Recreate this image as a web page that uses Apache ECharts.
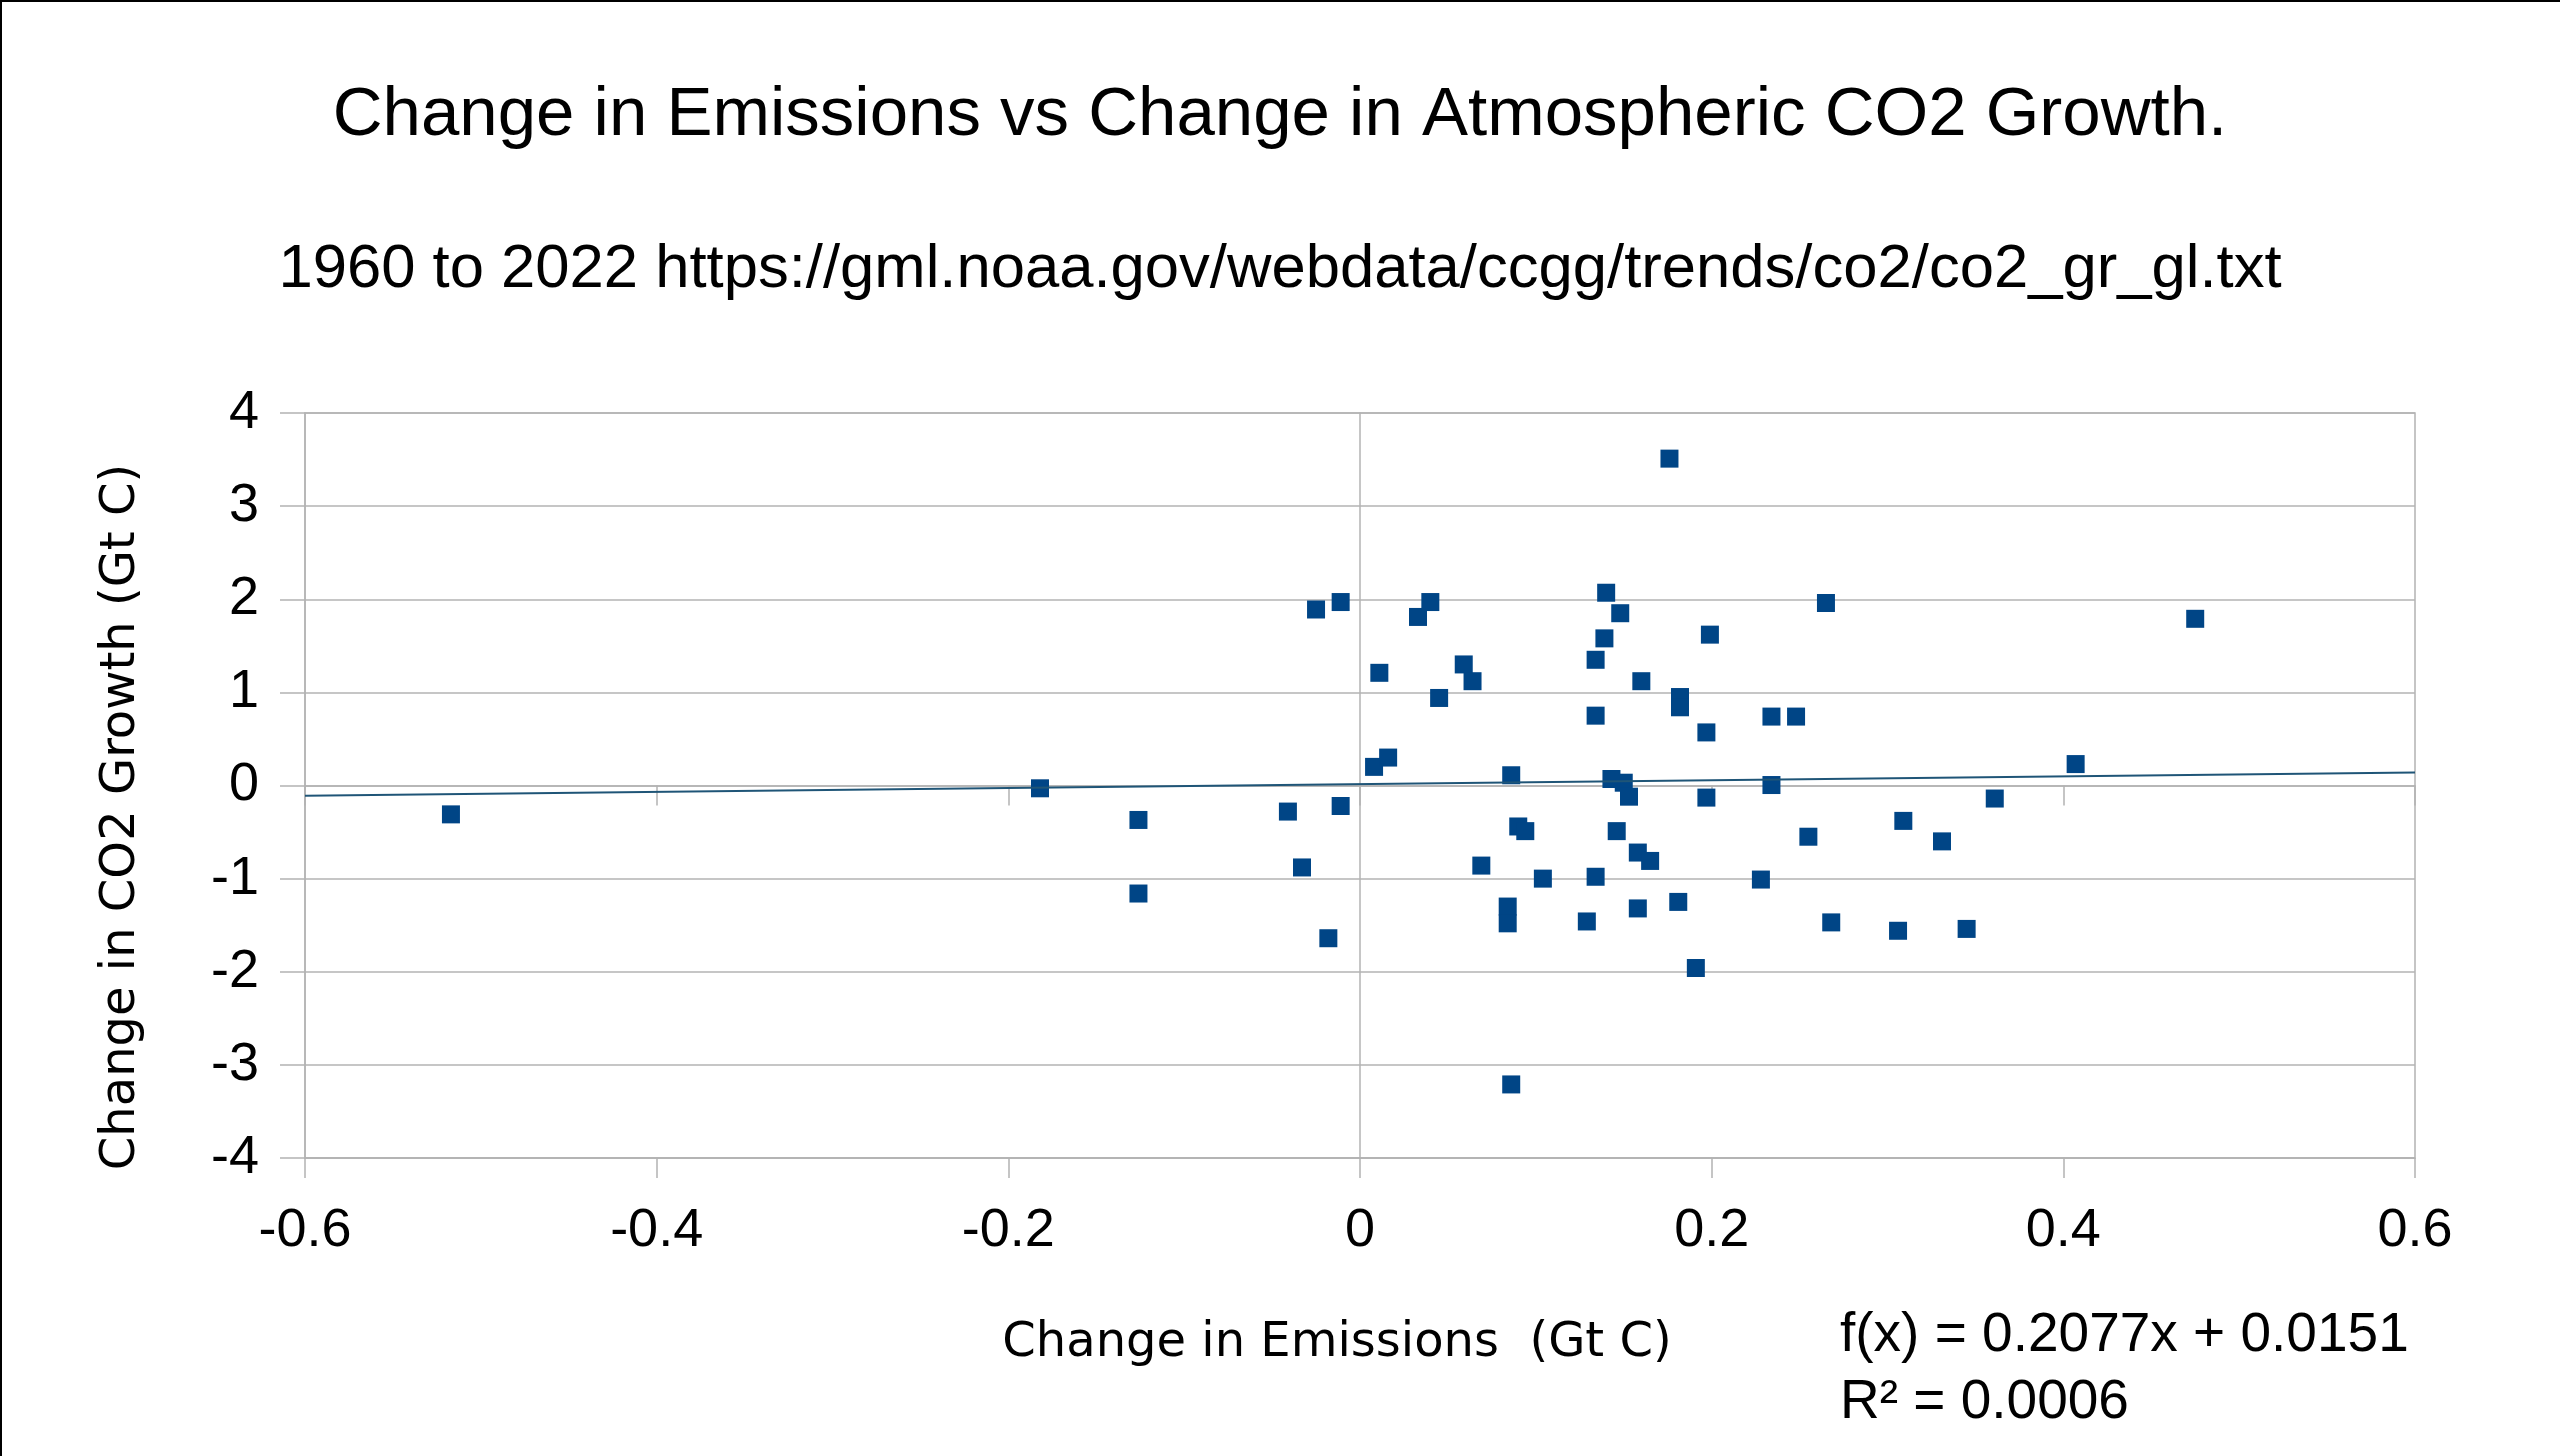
<!DOCTYPE html>
<html>
<head>
<meta charset="utf-8">
<script src="https://cdn.jsdelivr.net/npm/echarts@6/dist/echarts.min.js"></script>
<style>
  html, body { margin: 0; padding: 0; background: #ffffff; }
  #chart { width: 2560px; height: 1456px; }
</style>
</head>
<body>
<div id="chart"></div>
<script>
// Change in emissions (Gt C)
const emissionsChange = [
  -0.517, -0.182, -0.126, -0.126, -0.041, -0.033, -0.025, -0.018, -0.011, -0.011,
   0.008,  0.011,  0.016,  0.033,  0.040,  0.045,  0.059,  0.064,  0.069,  0.086,
   0.090,  0.094,  0.084,  0.084,  0.086,  0.104,  0.129,  0.134,  0.134,  0.134,
   0.139,  0.140,  0.143,  0.146,  0.148,  0.150,  0.153,  0.158,  0.158,  0.160,
   0.165,  0.176,  0.181,  0.182,  0.182,  0.191,  0.197,  0.197,  0.199,  0.228,
   0.234,  0.234,  0.248,  0.255,  0.265,  0.268,  0.306,  0.309,  0.331,  0.345,
   0.361,  0.407,  0.475
];
// Change in CO2 growth (Gt C)
const co2GrowthChange = [
  -0.31, -0.03, -0.37, -1.16, -0.28, -0.88,  1.89, -1.64,  1.97, -0.22,
   0.20,  1.21,  0.30,  1.81,  1.97,  0.94,  1.30,  1.12, -0.86,  0.11,
  -0.44, -0.49, -1.30, -1.48, -3.21, -1.00, -1.46,  1.35,  0.75, -0.98,
   1.58,  2.07,  0.07, -0.49,  1.85,  0.03, -0.12, -0.72, -1.32,  1.12,
  -0.81,  3.51, -1.25,  0.95,  0.84, -1.96,  0.57, -0.13,  1.62, -1.01,
   0.74,  0.005, 0.74, -0.55,  1.96, -1.47, -1.56, -0.38, -0.60, -1.54,
  -0.14,  0.23,  1.79
];
// Linear trend shown on the chart
const trendSlope = 0.2077;
const trendIntercept = 0.0151;
const trendXRange = [-0.6, 0.6];

const xTicks = [-0.6, -0.4, -0.2, 0, 0.2, 0.4, 0.6];
const yTicks = [-4, -3, -2, -1, 0, 1, 2, 3, 4];

const points = emissionsChange.map((x, i) => [x, co2GrowthChange[i]]);
const trendData = trendXRange.map(x => [x, trendSlope * x + trendIntercept]);

const gridColor = '#b3b3b3';
const sans = '"Liberation Sans", Arial, sans-serif';
const deja = '"DejaVu Sans", sans-serif';

const chart = echarts.init(document.getElementById('chart'), null, { renderer: 'canvas' });
chart.setOption({
  backgroundColor: '#ffffff',
  animation: false,
  title: [
    {
      text: 'Change in Emissions vs Change in Atmospheric CO2 Growth.',
      left: 'center', top: 76,
      textStyle: { fontFamily: sans, fontSize: 69, fontWeight: 'normal', color: '#000', lineHeight: 70 }
    },
    {
      text: '1960 to 2022 https://gml.noaa.gov/webdata/ccgg/trends/co2/co2_gr_gl.txt',
      left: 'center', top: 234,
      textStyle: { fontFamily: sans, fontSize: 61.6, fontWeight: 'normal', color: '#000', lineHeight: 62 }
    }
  ],
  grid: {
    left: 305, right: 145, top: 413, bottom: 298,
    show: true, borderColor: gridColor, borderWidth: 1.5, backgroundColor: 'transparent'
  },
  xAxis: [
    {
      type: 'value', min: -0.6, max: 0.6, interval: 0.2, position: 'bottom',
      axisLine: { show: true, onZero: false, lineStyle: { color: gridColor, width: 1.5 } },
      axisTick: { show: true, length: 20, lineStyle: { color: gridColor, width: 1.5 } },
      axisLabel: {
        fontFamily: sans, fontSize: 54, color: '#000', margin: 46,
        formatter: v => {
          const t = xTicks.find(k => Math.abs(k - v) < 1e-9);
          return t === undefined ? '' : String(Math.round(t * 10) / 10);
        }
      },
      splitLine: { show: false }
    },
    {
      type: 'value', min: -0.6, max: 0.6, interval: 0.2, position: 'top',
      axisLine: { show: true, onZero: true, onZeroAxisIndex: 0, lineStyle: { color: gridColor, width: 1.5 } },
      axisTick: { show: true, inside: true, length: 20, lineStyle: { color: gridColor, width: 1.5 } },
      axisLabel: { show: false },
      splitLine: { show: false }
    }
  ],
  yAxis: [
    {
      type: 'value', min: -4, max: 4, interval: 1, position: 'left',
      axisLine: { show: true, onZero: false, lineStyle: { color: gridColor, width: 1.5 } },
      axisTick: { show: true, length: 25, lineStyle: { color: gridColor, width: 1.5 } },
      axisLabel: { fontFamily: sans, fontSize: 54, color: '#000', margin: 46 },
      splitLine: { show: true, lineStyle: { color: gridColor, width: 1.5 } }
    },
    {
      type: 'value', min: -4, max: 4, interval: 1, position: 'right',
      axisLine: { show: true, onZero: true, onZeroAxisIndex: 0, lineStyle: { color: gridColor, width: 1.5 } },
      axisTick: { show: false },
      axisLabel: { show: false },
      splitLine: { show: false }
    }
  ],
  series: [
    {
      type: 'scatter', xAxisIndex: 0, yAxisIndex: 0,
      symbol: 'rect', symbolSize: 18,
      itemStyle: { color: '#004586', opacity: 1 },
      emphasis: { disabled: true },
      data: points, z: 3
    },
    {
      type: 'line', xAxisIndex: 0, yAxisIndex: 0,
      data: trendData, showSymbol: false, symbol: 'none',
      lineStyle: { color: '#1f5577', width: 2 }, z: 4
    }
  ],
  graphic: [
    {
      type: 'text', x: 122, y: 817, rotation: Math.PI / 2,
      style: {
        text: 'Change in CO2 Growth (Gt C)', fontFamily: deja, fontSize: 48,
        fill: '#000', align: 'center', verticalAlign: 'middle'
      }
    },
    {
      type: 'text', x: 1337, y: 1344,
      style: {
        text: 'Change in Emissions  (Gt C)', fontFamily: deja, fontSize: 48,
        fill: '#000', align: 'center', verticalAlign: 'middle'
      }
    },
    {
      type: 'text', x: 1840, y: 1336,
      style: {
        text: 'f(x) = 0.2077x + 0.0151', fontFamily: sans, fontSize: 55,
        fill: '#000', align: 'left', verticalAlign: 'middle'
      }
    },
    {
      type: 'text', x: 1840, y: 1403,
      style: {
        text: 'R² = 0.0006', fontFamily: sans, fontSize: 55,
        fill: '#000', align: 'left', verticalAlign: 'middle'
      }
    },
    { type: 'line', shape: { x1: 0, y1: 1, x2: 2560, y2: 1 }, style: { stroke: '#000', lineWidth: 2 } },
    { type: 'line', shape: { x1: 1, y1: 0, x2: 1, y2: 1456 }, style: { stroke: '#000', lineWidth: 2 } }
  ]
});
</script>
</body>
</html>
